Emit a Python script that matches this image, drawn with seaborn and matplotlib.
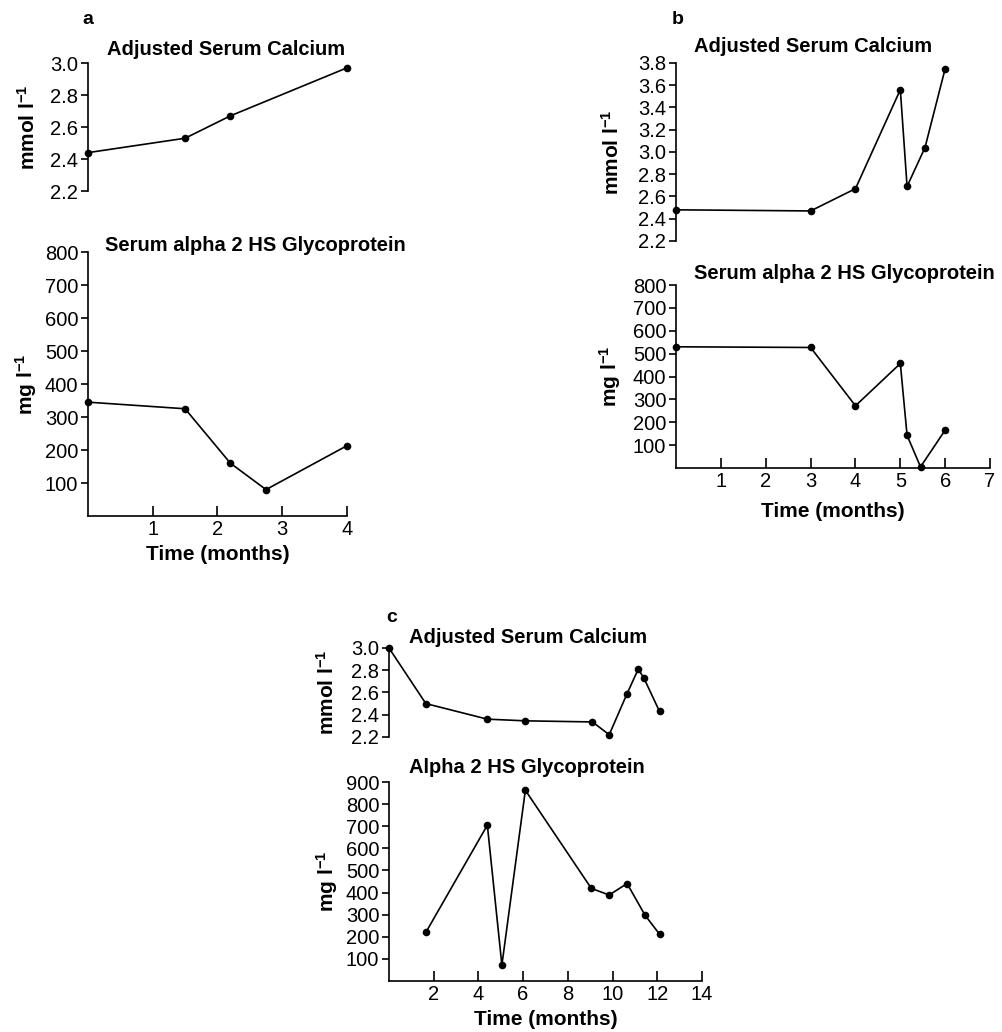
import matplotlib
matplotlib.use('Agg')
import matplotlib.pyplot as plt
import seaborn as sns
import pandas as pd

# panel a
a_ca_t = [0, 1.5, 2.2, 4.0]
a_ca = [2.44, 2.53, 2.67, 2.97]
a_gp_t = [0, 1.5, 2.2, 2.75, 4.0]
a_gp = [345, 325, 160, 80, 213]

# panel b
b_ca_t = [0, 3, 4, 5, 5.15, 5.55, 6]
b_ca = [2.48, 2.47, 2.67, 3.56, 2.69, 3.04, 3.75]
b_gp_t = [0, 3, 4, 5, 5.15, 5.45, 6]
b_gp = [530, 527, 272, 457, 143, 5, 166]

# panel c
c_ca_t = [0, 1.65, 4.4, 6.1, 9.1, 9.85, 10.65, 11.15, 11.4, 12.1]
c_ca = [3.0, 2.50, 2.36, 2.345, 2.335, 2.22, 2.59, 2.81, 2.73, 2.43]
c_gp_t = [1.65, 4.4, 5.05, 6.1, 9.05, 9.85, 10.65, 11.45, 12.1]
c_gp = [220, 705, 72, 863, 419, 389, 441, 298, 212]

ca_title = 'Adjusted Serum Calcium'
gp_title_ab = 'Serum alpha 2 HS Glycoprotein'
gp_title_c = 'Alpha 2 HS Glycoprotein'
ca_ylabel = r'mmol l$^{-1}$'
gp_ylabel = r'mg l$^{-1}$'
xlabel = 'Time (months)'

sns.set_style('ticks')
plt.rcParams['font.family'] = ['Liberation Sans', 'DejaVu Sans']
plt.rcParams['mathtext.fontset'] = 'custom'
plt.rcParams['mathtext.rm'] = 'Liberation Sans:bold'
plt.rcParams['mathtext.it'] = 'Liberation Sans:bold'
plt.rcParams['mathtext.bf'] = 'Liberation Sans:bold'
for key in ['text.color', 'axes.labelcolor', 'xtick.color', 'ytick.color', 'axes.edgecolor']:
    plt.rcParams[key] = 'black'

TICK_FS = 14.5
TITLE_FS = 14.5
LABEL_FS = 15


def draw_series(ax, t, v):
    df = pd.DataFrame({'t': t, 'v': v})
    sns.lineplot(data=df, x='t', y='v', ax=ax, sort=False, color='black',
                 lw=1.2, marker='o', markersize=5.5, markeredgewidth=0,
                 clip_on=False, errorbar=None)
    ax.set_xlabel('')
    ax.set_ylabel('')


def style_ca(ax, t, v, yticks, xmax, title, title_off, label_x):
    draw_series(ax, t, v)
    ax.set_xlim(0, xmax)
    ax.set_ylim(yticks[0], yticks[-1])
    ax.set_yticks(yticks)
    ax.set_yticklabels([f'{y:.1f}' for y in yticks], fontsize=TICK_FS)
    ax.set_xticks([])
    for s in ['top', 'right', 'bottom']:
        ax.spines[s].set_visible(False)
    ax.spines['left'].set_linewidth(1.2)
    ax.tick_params(axis='y', direction='out', length=5, width=1.2, pad=2)
    ax.set_ylabel(ca_ylabel, fontsize=LABEL_FS, fontweight='bold')
    ax.yaxis.set_label_coords(label_x, 0.5)
    ax.annotate(title, xy=(0, 1), xycoords='axes fraction', xytext=title_off,
                textcoords='offset points', va='center', ha='left',
                fontsize=TITLE_FS, fontweight='bold')


def style_gp(ax, t, v, yticks, xticks, xmax, title, title_off, label_x, xlab_off):
    draw_series(ax, t, v)
    ax.set_xlim(0, xmax)
    ax.set_ylim(0, yticks[-1])
    ax.set_yticks(yticks)
    ax.set_yticklabels([str(y) for y in yticks], fontsize=TICK_FS)
    ax.set_xticks(xticks)
    ax.set_xticklabels([str(x) for x in xticks], fontsize=TICK_FS)
    for s in ['top', 'right']:
        ax.spines[s].set_visible(False)
    ax.spines['left'].set_linewidth(1.2)
    ax.spines['bottom'].set_linewidth(1.2)
    ax.tick_params(axis='y', direction='out', length=5, width=1.2, pad=2)
    ax.tick_params(axis='x', direction='in', length=7, width=1.2, pad=3)
    ax.set_ylabel(gp_ylabel, fontsize=LABEL_FS, fontweight='bold')
    ax.yaxis.set_label_coords(label_x, 0.5)
    ax.set_xlabel(xlabel, fontsize=LABEL_FS, fontweight='bold', labelpad=xlab_off)
    ax.annotate(title, xy=(0, 1), xycoords='axes fraction', xytext=title_off,
                textcoords='offset points', va='center', ha='left',
                fontsize=TITLE_FS, fontweight='bold')


fig = plt.figure(figsize=(10.03, 10.32), dpi=100)

# axes rectangles in figure fractions (left, bottom, width, height)
ax_a_ca = fig.add_axes([0.0877, 0.8149, 0.2582, 0.1240])
ax_a_gp = fig.add_axes([0.0877, 0.5000, 0.2582, 0.2558])
ax_b_ca = fig.add_axes([0.6740, 0.7665, 0.3131, 0.1725])
ax_b_gp = fig.add_axes([0.6740, 0.5465, 0.3131, 0.1773])
ax_c_ca = fig.add_axes([0.3878, 0.2859, 0.3121, 0.0862])
ax_c_gp = fig.add_axes([0.3878, 0.0494, 0.3121, 0.1928])

style_ca(ax_a_ca, a_ca_t, a_ca, [2.2, 2.4, 2.6, 2.8, 3.0], 4, ca_title,
         (13.5, 9.5), -0.19)
style_gp(ax_a_gp, a_gp_t, a_gp, [100, 200, 300, 400, 500, 600, 700, 800],
         [1, 2, 3, 4], 4, gp_title_ab, (12, 5), -0.19, 4)

style_ca(ax_b_ca, b_ca_t, b_ca, [2.2, 2.4, 2.6, 2.8, 3.0, 3.2, 3.4, 3.6, 3.8],
         7, ca_title, (13, 11.5), -0.17)
style_gp(ax_b_gp, b_gp_t, b_gp, [100, 200, 300, 400, 500, 600, 700, 800],
         [1, 2, 3, 4, 5, 6, 7], 7, gp_title_ab, (13, 8.6), -0.17, 8)

style_ca(ax_c_ca, c_ca_t, c_ca, [2.2, 2.4, 2.6, 2.8, 3.0], 14, ca_title,
         (14.4, 7.2), -0.165)
style_gp(ax_c_gp, c_gp_t, c_gp, [100, 200, 300, 400, 500, 600, 700, 800, 900],
         [2, 4, 6, 8, 10, 12, 14], 14, gp_title_c, (14.4, 10.8), -0.155, 4)

# panel letters above each top axes
letters = [(ax_a_ca, 'a', (0, 31)), (ax_b_ca, 'b', (1, 31)), (ax_c_ca, 'c', (2, 22))]
for ax, letter, off in letters:
    ax.annotate(letter, xy=(0, 1), xycoords='axes fraction', xytext=off,
                textcoords='offset points', ha='center', va='center',
                fontsize=14, fontweight='bold')

fig.savefig('out.png', dpi=100)
